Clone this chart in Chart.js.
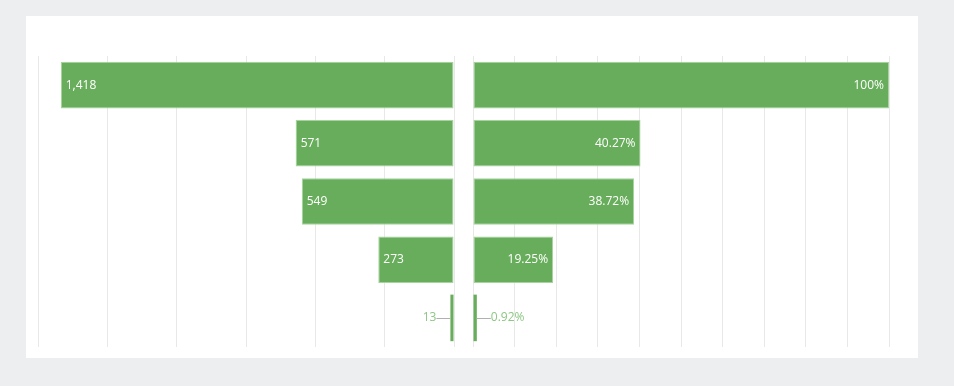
<!DOCTYPE html>
<html>
<head>
<meta charset="utf-8">
<script src="https://cdn.jsdelivr.net/npm/chart.js@4"></script>
<style>
  html, body { margin: 0; padding: 0; }
  body { width: 954px; height: 386px; background: #eceef0; position: relative; overflow: hidden; }
  #card { position: absolute; left: 26px; top: 16px; width: 892px; height: 342px; background: #ffffff; }
  .box { position: absolute; top: 54px; width: 424px; height: 295px; }
  #leftBox { left: 34px; }
  #rightBox { left: 469px; }
</style>
</head>
<body>
<div id="card"></div>
<div class="box" id="leftBox"><canvas id="leftChart"></canvas></div>
<div class="box" id="rightBox"><canvas id="rightChart"></canvas></div>
<script>
const categories = ['Stage 1', 'Stage 2', 'Stage 3', 'Stage 4', 'Stage 5'];
const counts = [1418, 571, 549, 273, 13];
const percents = [100, 40.27, 38.72, 19.25, 0.92];
const countTicks = [0, 250, 500, 750, 1000, 1250, 1500];
const percentTicks = [0, 10, 20, 30, 40, 50, 60, 70, 80, 90, 100];

const FILL = '#68ad5c';
const BORDER = '#a6d39e';
const GRID = '#e8e8e8';
const OUT_TEXT = '#8cc784';
const LEADER = '#b0b0b0';
const FONT = "12px 'Open Sans'";

function makeLabelPlugin(side, fmt) {
  return {
    id: 'barLabels_' + side,
    afterDatasetsDraw(chart) {
      const ctx = chart.ctx;
      const meta = chart.getDatasetMeta(0);
      const data = chart.data.datasets[0].data;
      ctx.save();
      ctx.font = FONT;
      ctx.textBaseline = 'middle';
      meta.data.forEach((el, i) => {
        const txt = fmt(data[i]);
        const tw = ctx.measureText(txt).width;
        const left = Math.min(el.x, el.base);
        const right = Math.max(el.x, el.base);
        const w = right - left;
        const y = el.y;
        if (w > tw + 12) {
          ctx.fillStyle = '#ffffff';
          if (side === 'left') {
            ctx.textAlign = 'left';
            ctx.fillText(txt, left + 5, y);
          } else {
            ctx.textAlign = 'right';
            ctx.fillText(txt, right - 5, y);
          }
        } else {
          ctx.strokeStyle = LEADER;
          ctx.lineWidth = 1;
          ctx.beginPath();
          if (side === 'left') {
            ctx.moveTo(left, Math.round(y) + 0.5);
            ctx.lineTo(left - 14, Math.round(y) + 0.5);
          } else {
            ctx.moveTo(right, Math.round(y) + 0.5);
            ctx.lineTo(right + 14, Math.round(y) + 0.5);
          }
          ctx.stroke();
          ctx.fillStyle = OUT_TEXT;
          if (side === 'left') {
            ctx.textAlign = 'right';
            ctx.fillText(txt, left - 14, y);
          } else {
            ctx.textAlign = 'left';
            ctx.fillText(txt, right + 14, y);
          }
        }
      });
      ctx.restore();
    }
  };
}

function makeChart(canvasId, values, tickValues, reverse, side, fmt) {
  const maxV = tickValues[tickValues.length - 1];
  const step = tickValues[1] - tickValues[0];
  return new Chart(document.getElementById(canvasId), {
    type: 'bar',
    data: {
      labels: categories,
      datasets: [{
        data: values,
        backgroundColor: FILL,
        borderColor: BORDER,
        borderWidth: (c) => (c.raw / maxV < 0.02 ? 0 : 1),
        borderSkipped: false,
        categoryPercentage: 0.8,
        barPercentage: 1.0
      }]
    },
    options: {
      indexAxis: 'y',
      responsive: true,
      maintainAspectRatio: false,
      animation: false,
      layout: { padding: { left: 4, right: 4, top: 2, bottom: 2 } },
      plugins: { legend: { display: false }, tooltip: { enabled: false } },
      scales: {
        x: {
          min: 0,
          max: maxV,
          reverse: reverse,
          ticks: { display: false, stepSize: step },
          afterBuildTicks: (axis) => { axis.ticks = tickValues.map(v => ({ value: v })); },
          grid: { color: GRID, lineWidth: 1, drawTicks: false },
          border: { display: false }
        },
        y: {
          display: false,
          grid: { display: false }
        }
      }
    },
    plugins: [makeLabelPlugin(side, fmt)]
  });
}

makeChart('leftChart', counts, countTicks, true, 'left', v => v.toLocaleString('en-US'));
makeChart('rightChart', percents, percentTicks, false, 'right', v => v + '%');
</script>
</body>
</html>
